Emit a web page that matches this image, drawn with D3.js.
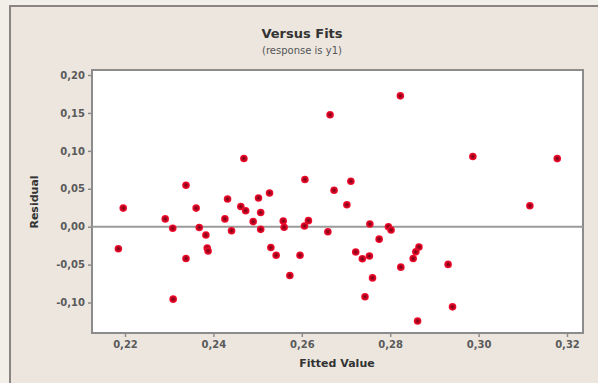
<!DOCTYPE html>
<html>
<head>
<meta charset="utf-8">
<script src="https://cdn.jsdelivr.net/npm/d3@7"></script>
<style>
    body { margin: 0; background: #f2efe9; }
    svg { display: block; }
    text { font-family: Verdana, "DejaVu Sans", sans-serif; }
</style>
</head>
<body>
<svg id="chart" width="598" height="383"></svg>
<script>
"use strict";

// fitted values (x) and residuals (y)
const fitted = [
    0.2185, 0.2196, 0.2291, 0.2308, 0.2309, 0.2338, 0.2338, 0.2361, 0.2368, 0.2383,
    0.2386, 0.2388, 0.2426, 0.2432, 0.2441, 0.2462, 0.2469, 0.2473, 0.2490, 0.2502,
    0.2507, 0.2507, 0.2527, 0.2530, 0.2542, 0.2558, 0.2560, 0.2573, 0.2596, 0.2606,
    0.2615, 0.2607, 0.2659, 0.2664, 0.2673, 0.2702, 0.2711, 0.2722, 0.2737, 0.2743,
    0.2753, 0.2754, 0.2760, 0.2775, 0.2796, 0.2802, 0.2823, 0.2824, 0.2852, 0.2858,
    0.2865, 0.2862, 0.2931, 0.2941, 0.2987, 0.3116, 0.3178
];
const residual = [
    -0.029, 0.0245, 0.0103, -0.002, -0.0955, 0.0547, -0.042, 0.0245, -0.001, -0.011,
    -0.028, -0.032, 0.0103, 0.0365, -0.0053, 0.0267, 0.0899, 0.021, 0.0067, 0.0379,
    0.0187, -0.0035, 0.0445, -0.0275, -0.0377, 0.0076, -0.0008, -0.0644, -0.0377, 0.001,
    0.008, 0.0623, -0.0067, 0.1476, 0.048, 0.0289, 0.060, -0.0333, -0.0422, -0.0924,
    -0.0387, 0.0036, -0.0675, -0.0164, 0.000, -0.0044, 0.1725, -0.0533, -0.042, -0.033,
    -0.0267, -0.1244, -0.0497, -0.1057, 0.0925, 0.0276, 0.0898
];
const xTicks = [0.22, 0.24, 0.26, 0.28, 0.30, 0.32];
const yTicks = [-0.10, -0.05, 0.00, 0.05, 0.10, 0.15, 0.20];

const svg = d3.select("#chart");
const plot = { left: 92, right: 583, top: 70, bottom: 333 };

// outer panel
svg.append("rect")
    .attr("x", 10).attr("y", 6)
    .attr("width", 620).attr("height", 400)
    .attr("fill", "#ece6df")
    .attr("stroke", "#8a8580")
    .attr("stroke-width", 2);

const x = d3.scaleLinear().domain([0.22, 0.32]).range([125, 567]);
const y = d3.scaleLinear().domain([0, 0.20]).range([226.7, 75]);

// plot area
svg.append("rect")
    .attr("x", plot.left).attr("y", plot.top)
    .attr("width", plot.right - plot.left).attr("height", plot.bottom - plot.top)
    .attr("fill", "#ffffff")
    .attr("stroke", "#8c8c8c")
    .attr("stroke-width", 2);

const fmt = v => d3.format(".2f")(v).replace(".", ",").replace("−", "-");

// x axis
const xAxis = svg.append("g")
    .attr("transform", "translate(0," + plot.bottom + ")")
    .call(d3.axisBottom(x).tickValues(xTicks).tickSize(4).tickSizeOuter(0).tickPadding(4).tickFormat(fmt));
xAxis.select(".domain").remove();

// y axis
const yAxis = svg.append("g")
    .attr("transform", "translate(" + plot.left + ",0)")
    .call(d3.axisLeft(y).tickValues(yTicks).tickSize(4).tickSizeOuter(0).tickPadding(3).tickFormat(fmt));
yAxis.select(".domain").remove();

svg.selectAll(".tick line").attr("stroke", "#8c8c8c").attr("stroke-width", 1.5);
svg.selectAll(".tick text")
    .attr("fill", "#5a5a5a")
    .style("font-size", "10px")
    .style("font-weight", "bold");

// zero reference line
svg.append("line")
    .attr("x1", plot.left).attr("x2", plot.right)
    .attr("y1", y(0)).attr("y2", y(0))
    .attr("stroke", "#9a9a9a")
    .attr("stroke-width", 2);

// point style: red dot with a dark core
const grad = svg.append("defs").append("radialGradient").attr("id", "dot");
grad.append("stop").attr("offset", "0%").attr("stop-color", "#5a0a18");
grad.append("stop").attr("offset", "35%").attr("stop-color", "#a8001c");
grad.append("stop").attr("offset", "100%").attr("stop-color", "#ff1030");

svg.append("g").selectAll("circle")
    .data(fitted.map((f, i) => ({ f: f, r: residual[i] })))
    .join("circle")
    .attr("cx", d => x(d.f))
    .attr("cy", d => y(d.r))
    .attr("r", 3.8)
    .attr("fill", "url(#dot)");

// titles
svg.append("text")
    .attr("x", 302).attr("y", 38)
    .attr("text-anchor", "middle")
    .style("font-size", "13px").style("font-weight", "bold")
    .attr("fill", "#333333")
    .text("Versus Fits");
svg.append("text")
    .attr("x", 302).attr("y", 54)
    .attr("text-anchor", "middle")
    .style("font-size", "10px")
    .attr("fill", "#555555")
    .text("(response is y1)");

svg.append("text")
    .attr("x", 337).attr("y", 367)
    .attr("text-anchor", "middle")
    .style("font-size", "11px").style("font-weight", "bold")
    .attr("fill", "#333333")
    .text("Fitted Value");
svg.append("text")
    .attr("transform", "translate(38,202) rotate(-90)")
    .attr("text-anchor", "middle")
    .style("font-size", "11px").style("font-weight", "bold")
    .attr("fill", "#333333")
    .text("Residual");
</script>
</body>
</html>
